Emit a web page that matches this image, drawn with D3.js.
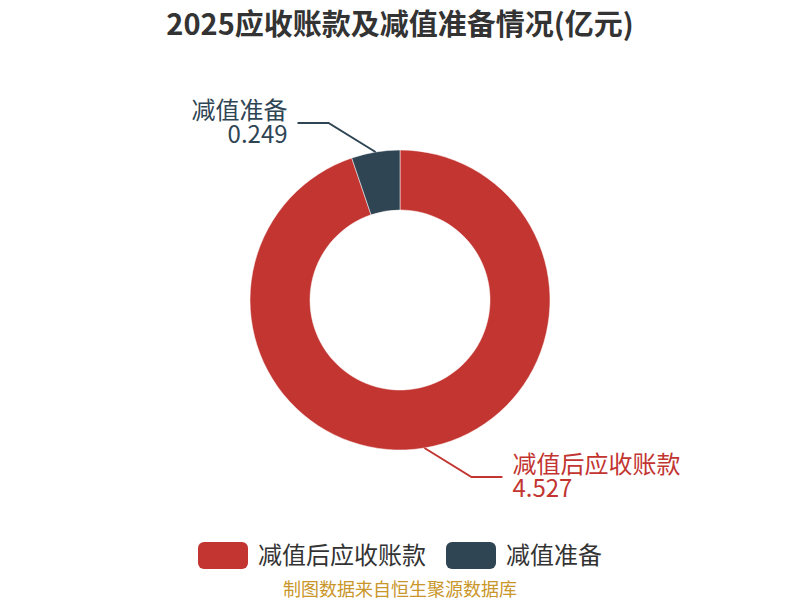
<!DOCTYPE html>
<html><head><meta charset="utf-8">
<script src="https://cdn.jsdelivr.net/npm/d3@7"></script>
<style>body{margin:0;background:#fff;}svg{display:block;font-family:"Noto Sans CJK SC","Noto Sans",sans-serif;}</style>
</head><body>
<svg id="c" width="800" height="600"></svg>
<script>
const categories = ["减值后应收账款", "减值准备"];
const values = [4.527, 0.249];
const colors = ["#c23531", "#2f4554"];
const titleText = "2025应收账款及减值准备情况(亿元)";
const sourceText = "制图数据来自恒生聚源数据库";

const svg = d3.select("#c");
const cx = 400, cy = 300, rOut = 150, rIn = 90;

svg.append("text").attr("x", 400).attr("y", 35).attr("text-anchor", "middle")
  .attr("font-size", 29).attr("font-weight", "bold").attr("fill", "#333").text(titleText);

const data = categories.map((c, i) => ({name: c, value: values[i], color: colors[i]}));
const pie = d3.pie().value(d => d.value).sort(null);
const arcs = pie(data);
const arc = d3.arc().innerRadius(rIn).outerRadius(rOut);
const g = svg.append("g").attr("transform", `translate(${cx},${cy})`);
g.selectAll("path.s").data(arcs).enter().append("path")
  .attr("d", arc).attr("fill", d => d.data.color).attr("stroke", "#fff").attr("stroke-width", 0.5);

const elbowDx = 47, elbowDy = 29, hLen = 31;
arcs.forEach(a => {
  const m = (a.startAngle + a.endAngle) / 2;
  const s = Math.sin(m), c = -Math.cos(m);
  const p1 = [rOut * s, rOut * c];
  const dir = s >= 0 ? 1 : -1;
  const vdir = c >= 0 ? 1 : -1;
  const p2 = [p1[0] + dir * elbowDx, p1[1] + vdir * elbowDy];
  const p3 = [p2[0] + dir * hLen, p2[1]];
  g.append("polyline").attr("points", [p1, p2, p3].map(p => p.join(",")).join(" "))
    .attr("fill", "none").attr("stroke", a.data.color).attr("stroke-width", 2);
  const tx = p3[0] + dir * 10;
  const t = g.append("text").attr("text-anchor", dir > 0 ? "start" : "end")
    .attr("fill", a.data.color).attr("font-size", 24);
  t.append("tspan").attr("x", tx).attr("y", p3[1] - 4).text(a.data.name);
  t.append("tspan").attr("x", tx).attr("y", p3[1] + 20).text(a.data.value);
});

// legend
const legX = [198, 446];
data.forEach((d, i) => {
  svg.append("rect").attr("x", legX[i]).attr("y", 542).attr("width", 50).attr("height", 27)
    .attr("rx", 6).attr("fill", d.color);
  svg.append("text").attr("x", legX[i] + 60).attr("y", 564).attr("font-size", 24)
    .attr("fill", "#333").text(d.name);
});

svg.append("text").attr("x", 400).attr("y", 596).attr("text-anchor", "middle")
  .attr("font-size", 18).attr("fill", "#c9962a").text(sourceText);
</script>
</body></html>
